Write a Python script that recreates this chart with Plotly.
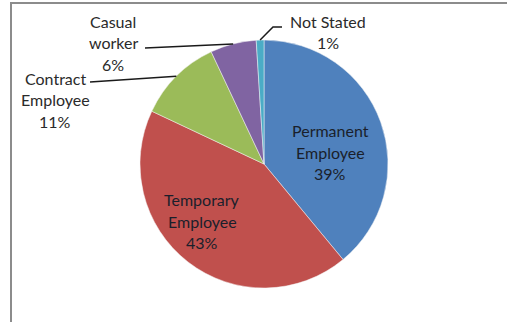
import math
import plotly.graph_objects as go

# Employment status shares (%)
categories = ["Permanent Employee", "Temporary Employee", "Contract Employee",
              "Casual worker", "Not Stated"]
label_lines = [["Permanent", "Employee"], ["Temporary", "Employee"],
               ["Contract", "Employee"], ["Casual", "worker"], ["Not Stated"]]
values = [39, 43, 11, 6, 1]
colors = ["#4F81BD", "#C0504D", "#9BBB59", "#8064A2", "#4BACC6"]

W, H = 507, 322
# pie placement (pixels)
CX, CY, R = 264, 164, 124
LINE_GAP = 21.5

# label centre positions (pixels) and leader-line start points (None = inside)
label_pos = [(330, 152), (202, 221), (55, 100), (113, 43), (328, 32)]
leader_start = [None, None, (90, 82), (145, 48), (282, 27)]
leader_elbow = [None, None, None, None, (273, 27)]


def px(x):
    return x / W


def py(y):
    return 1 - y / H


fig = go.Figure(go.Pie(
    labels=categories,
    values=values,
    sort=False,
    direction="clockwise",
    rotation=0,
    marker=dict(colors=colors, line=dict(color="#f4f4f4", width=0.5)),
    textinfo="none",
    hoverinfo="label+percent",
    showlegend=False,
    domain=dict(x=[px(CX - R), px(CX + R)], y=[py(CY + R), py(CY - R)]),
))

total = sum(values)
annotations = []
shapes = []
cum = 0
for i, v in enumerate(values):
    pct = round(100 * v / total)
    lines = label_lines[i] + [f"{pct}%"]
    lx, ly = label_pos[i]
    y0 = ly - LINE_GAP * (len(lines) - 1) / 2
    color = "#1a1f2b" if leader_start[i] is None else "#2a2a2a"
    for k, line in enumerate(lines):
        annotations.append(dict(
            x=px(lx), y=py(y0 + k * LINE_GAP), xref="paper", yref="paper",
            text=line, showarrow=False, xanchor="center", yanchor="middle",
            font=dict(family="Lato, Open Sans, sans-serif", size=16,
                      color=color),
        ))
    mid = 2 * math.pi * (cum + v / 2) / total
    cum += v
    if leader_start[i] is not None:
        ex = CX + R * math.sin(mid)
        ey = CY - R * math.cos(mid)
        pts = [leader_start[i]]
        if leader_elbow[i] is not None:
            pts.append(leader_elbow[i])
        pts.append((ex, ey))
        path = "M " + " L ".join(f"{px(x)},{py(y)}" for x, y in pts)
        shapes.append(dict(type="path", xref="paper", yref="paper", path=path,
                           line=dict(color="#1a1a1a", width=1.5)))

# chart frame
shapes.append(dict(type="path", xref="paper", yref="paper",
                   path=f"M {px(11)},0 L {px(11)},{py(3)} L 1,{py(3)}",
                   line=dict(color="#8c8c8c", width=2)))

fig.update_layout(
    width=W, height=H,
    margin=dict(l=0, r=0, t=0, b=0),
    paper_bgcolor="white",
    plot_bgcolor="white",
    annotations=annotations,
    shapes=shapes,
)

fig.write_html("out.html")
